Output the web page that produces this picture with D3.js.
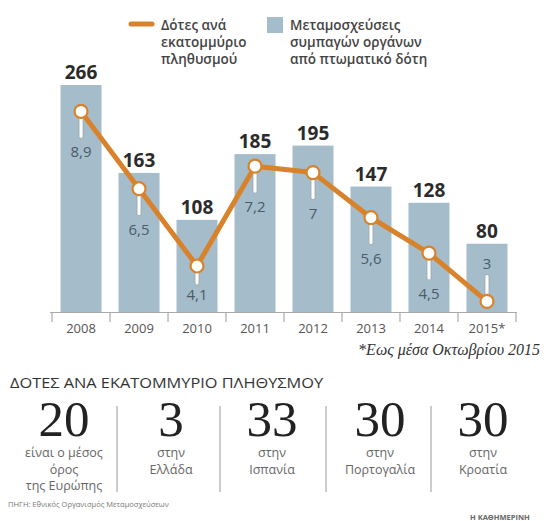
<!DOCTYPE html>
<html><head><meta charset="utf-8">
<script src="https://cdn.jsdelivr.net/npm/d3@7"></script>
<style>
html,body{margin:0;padding:0;background:#fff;}
svg{display:block;}
text{font-family:"Open Sans","Noto Sans",sans-serif;}
text.serif{font-family:"Liberation Serif","DejaVu Serif",serif;}
</style></head>
<body><svg id="c" width="544" height="521"></svg>
<script>
const years = ["2008","2009","2010","2011","2012","2013","2014","2015*"];
const transplants = [266,163,108,185,195,147,128,80];
const donorsPerMillion = [8.9,6.5,4.1,7.2,7,5.6,4.5,3];
const legendLine = ["Δότες ανά","εκατομμύριο","πληθυσμού"];
const legendBar = ["Μεταμοσχεύσεις","συμπαγών οργάνων","από πτωματικό δότη"];
const footnote = "*Εως μέσα Οκτωβρίου 2015";
const sectionTitle = "ΔΟΤΕΣ ΑΝΑ ΕΚΑΤΟΜΜΥΡΙΟ ΠΛΗΘΥΣΜΟΥ";
const compValues = [20,3,33,30,30];
const compLabels = [["είναι ο μέσος","όρος","της Ευρώπης"],["στην","Ελλάδα"],["στην","Ισπανία"],["στην","Πορτογαλία"],["στην","Κροατία"]];
const source = "ΠΗΓΗ: Εθνικός Οργανισμός Μεταμοσχεύσεων";
const brand = "Η ΚΑΘΗΜΕΡΙΝΗ";

const svg = d3.select("#c");
const BAR = "#a5bdcb", ORANGE = "#d8832b";

const x = d3.scaleBand().domain(years).range([52,516]).paddingInner(0.293).paddingOuter(0.147);
const y = d3.scaleLinear().domain([0,300]).range([312,56]);
const y2 = d3.scaleLinear().domain([0,10]).range([398,76]);

// legend
svg.append("line").attr("x1",131).attr("x2",152).attr("y1",24).attr("y2",24)
  .attr("stroke",ORANGE).attr("stroke-width",5).attr("stroke-linecap","round");
svg.append("rect").attr("x",267).attr("y",17).attr("width",16).attr("height",16).attr("fill",BAR);
const lg = svg.append("g").attr("fill","#444").attr("font-size",13.5).attr("font-weight",600);
legendLine.forEach((t,i)=>lg.append("text").attr("x",161).attr("y",29.5+i*17).text(t));
legendBar.forEach((t,i)=>lg.append("text").attr("x",290).attr("y",29.5+i*17).text(t));

// bars
svg.append("g").selectAll("rect").data(years).join("rect")
  .attr("x",d=>x(d)).attr("width",x.bandwidth())
  .attr("y",(d,i)=>y(transplants[i])).attr("height",(d,i)=>y(0)-y(transplants[i]))
  .attr("fill",BAR);

svg.append("g").selectAll("text").data(years).join("text")
  .attr("x",d=>x(d)+x.bandwidth()/2).attr("y",(d,i)=>y(transplants[i])-6)
  .attr("text-anchor","middle").attr("font-size",19).attr("font-weight",700).attr("fill","#2b2b2b")
  .text((d,i)=>transplants[i]);

// axis
const ax = svg.append("g").attr("stroke","#aaa").attr("stroke-width",1.2);
ax.append("line").attr("x1",50).attr("x2",517).attr("y1",y(0)+0.5).attr("y2",y(0)+0.5);
const bounds = years.map(d=>x(d)-x.step()*x.paddingInner()/2).concat([x(years[years.length-1])+x.bandwidth()+x.step()*x.paddingInner()/2]);
ax.selectAll("line.t").data(bounds).join("line").attr("class","t")
  .attr("x1",d=>d).attr("x2",d=>d).attr("y1",y(0)).attr("y2",y(0)+10);
const xa = svg.append("g").attr("transform",`translate(0,${y(0)})`)
  .call(d3.axisBottom(x).tickSize(0).tickPadding(12));
xa.select(".domain").remove();
xa.selectAll("text").attr("font-size",13).attr("fill","#555");

// line
const pts = years.map((d,i)=>[x(d)+x.bandwidth()/2, y2(donorsPerMillion[i])]);
svg.append("path").datum(pts).attr("d",d3.line()).attr("fill","none")
  .attr("stroke",ORANGE).attr("stroke-width",5).attr("stroke-linejoin","round");

// pins and labels
const last = years.length-1;
const labelY = pts.map((d,i)=> i===last ? d[1]-32 : Math.min(d[1]+46, 300));
const pinLen = pts.map((d,i)=> i===last ? 27 : Math.min(27, labelY[i]-15-d[1]));
svg.append("g").selectAll("rect").data(pts).join("rect")
  .attr("x",d=>d[0]-2).attr("width",4)
  .attr("y",(d,i)=> i===last ? d[1]-pinLen[i] : d[1])
  .attr("height",(d,i)=>pinLen[i]).attr("rx",2)
  .attr("fill","#fff").attr("stroke","#9aa3a8").attr("stroke-width",0.8);
svg.append("g").selectAll("circle").data(pts).join("circle")
  .attr("cx",d=>d[0]).attr("cy",d=>d[1]).attr("r",6.5)
  .attr("fill","#fff").attr("stroke",ORANGE).attr("stroke-width",2.2);
svg.append("g").selectAll("text").data(pts).join("text")
  .attr("x",d=>d[0]).attr("y",(d,i)=>labelY[i])
  .attr("text-anchor","middle").attr("font-size",15).attr("fill","#4b5b67")
  .text((d,i)=>String(donorsPerMillion[i]).replace(".",","));

// footnote
svg.append("text").attr("class","serif").attr("x",540).attr("y",355).attr("text-anchor","end")
  .attr("font-style","italic").attr("font-size",16)
  .attr("fill","#333").text(footnote);

// section title
svg.append("text").attr("x",10).attr("y",388).attr("font-size",15).attr("fill","#333")
  .attr("textLength",313).attr("lengthAdjust","spacingAndGlyphs").text(sectionTitle);

// comparison
const cx = [64,171,272,380,483];
const seps = [117,220,326,431];
svg.append("g").selectAll("line").data(seps).join("line")
  .attr("x1",d=>d).attr("x2",d=>d).attr("y1",406).attr("y2",492)
  .attr("stroke","#bbb").attr("stroke-width",1.5);
compValues.forEach((v,i)=>{
  svg.append("text").attr("class","serif").attr("x",cx[i]).attr("y",436).attr("text-anchor","middle")
    .attr("font-size",51).attr("fill","#222").text(v);
  compLabels[i].forEach((t,j)=>svg.append("text").attr("x",cx[i]).attr("y",457+j*16.5)
    .attr("text-anchor","middle").attr("font-size",12.5).attr("fill","#666").text(t));
});

// source
svg.append("text").attr("x",8).attr("y",507).attr("font-size",7.5).attr("fill","#777").text(source);
svg.append("text").attr("x",470).attr("y",520).attr("font-size",7.5).attr("font-weight",700).attr("fill","#666").text(brand);
</script></body></html>
